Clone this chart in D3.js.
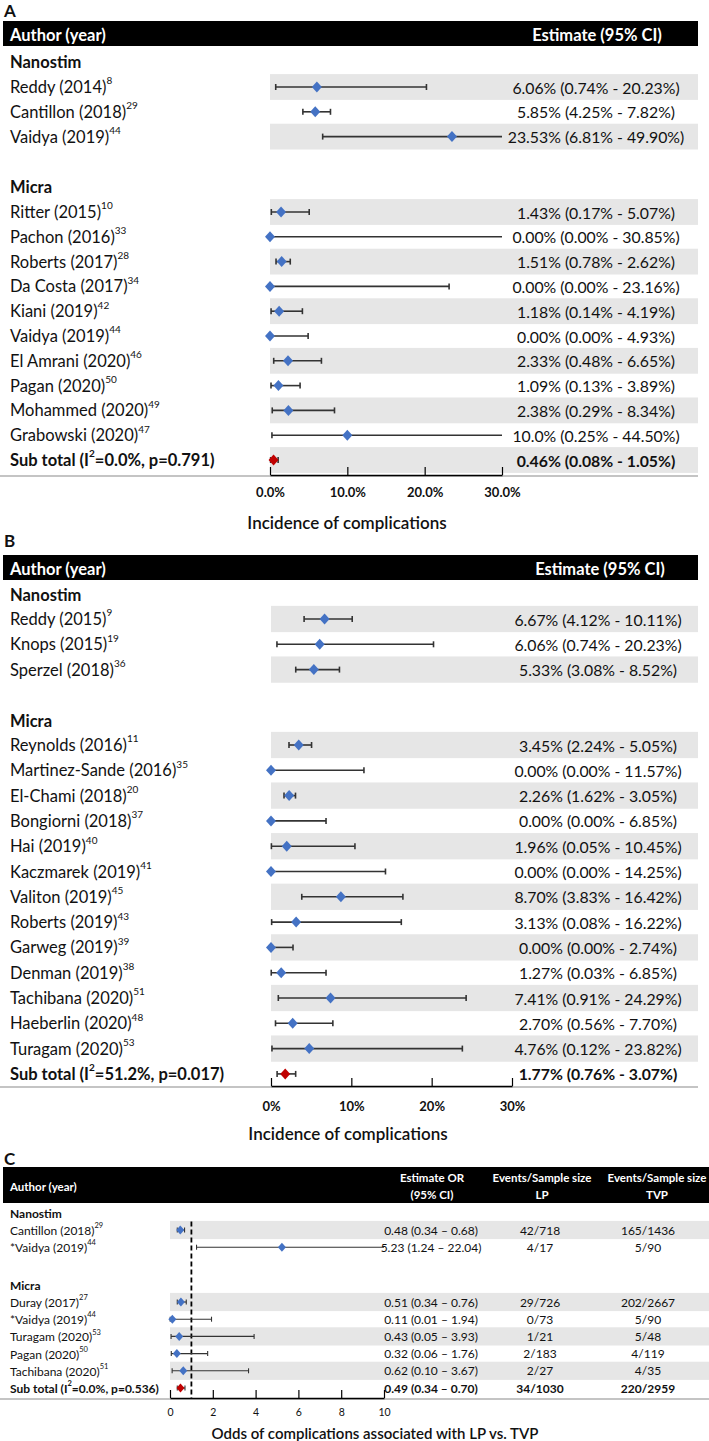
<!DOCTYPE html>
<html>
<head>
<meta charset="utf-8">
<script src="https://cdn.jsdelivr.net/npm/d3@7"></script>
<style>
  body { margin: 0; background: #fff; }
  text { font-family: Lato, "Noto Sans", sans-serif; fill: #111; }
</style>
</head>
<body>
<script>
// ---------- data ----------
const A_nanostim = [
  { author: "Reddy (2014)", ref: "8", est: 6.06, lo: 0.74, hi: 20.23, txt: "6.06% (0.74% - 20.23%)" },
  { author: "Cantillon (2018)", ref: "29", est: 5.85, lo: 4.25, hi: 7.82, txt: "5.85% (4.25% - 7.82%)" },
  { author: "Vaidya (2019)", ref: "44", est: 23.53, lo: 6.81, hi: 49.9, txt: "23.53% (6.81% - 49.90%)" }
];
const A_micra = [
  { author: "Ritter (2015)", ref: "10", est: 1.43, lo: 0.17, hi: 5.07, txt: "1.43% (0.17% - 5.07%)" },
  { author: "Pachon (2016)", ref: "33", est: 0.0, lo: 0.0, hi: 30.85, txt: "0.00% (0.00% - 30.85%)" },
  { author: "Roberts (2017)", ref: "28", est: 1.51, lo: 0.78, hi: 2.62, txt: "1.51% (0.78% - 2.62%)" },
  { author: "Da Costa (2017)", ref: "34", est: 0.0, lo: 0.0, hi: 23.16, txt: "0.00% (0.00% - 23.16%)" },
  { author: "Kiani (2019)", ref: "42", est: 1.18, lo: 0.14, hi: 4.19, txt: "1.18% (0.14% - 4.19%)" },
  { author: "Vaidya (2019)", ref: "44", est: 0.0, lo: 0.0, hi: 4.93, txt: "0.00% (0.00% - 4.93%)" },
  { author: "El Amrani (2020)", ref: "46", est: 2.33, lo: 0.48, hi: 6.65, txt: "2.33% (0.48% - 6.65%)" },
  { author: "Pagan (2020)", ref: "50", est: 1.09, lo: 0.13, hi: 3.89, txt: "1.09% (0.13% - 3.89%)" },
  { author: "Mohammed (2020)", ref: "49", est: 2.38, lo: 0.29, hi: 8.34, txt: "2.38% (0.29% - 8.34%)" },
  { author: "Grabowski (2020)", ref: "47", est: 10.0, lo: 0.25, hi: 44.5, txt: "10.0% (0.25% - 44.50%)" }
];
const A_total = { pre: "Sub total (I", sup: "2", post: "=0.0%, p=0.791)", est: 0.46, lo: 0.08, hi: 1.05, txt: "0.46% (0.08% - 1.05%)" };
const A_ticks = [0, 10, 20, 30];

const B_nanostim = [
  { author: "Reddy (2015)", ref: "9", est: 6.67, lo: 4.12, hi: 10.11, txt: "6.67% (4.12% - 10.11%)" },
  { author: "Knops (2015)", ref: "19", est: 6.06, lo: 0.74, hi: 20.23, txt: "6.06% (0.74% - 20.23%)" },
  { author: "Sperzel (2018)", ref: "36", est: 5.33, lo: 3.08, hi: 8.52, txt: "5.33% (3.08% - 8.52%)" }
];
const B_micra = [
  { author: "Reynolds (2016)", ref: "11", est: 3.45, lo: 2.24, hi: 5.05, txt: "3.45% (2.24% - 5.05%)" },
  { author: "Martinez-Sande (2016)", ref: "35", est: 0.0, lo: 0.0, hi: 11.57, txt: "0.00% (0.00% - 11.57%)" },
  { author: "El-Chami (2018)", ref: "20", est: 2.26, lo: 1.62, hi: 3.05, txt: "2.26% (1.62% - 3.05%)" },
  { author: "Bongiorni (2018)", ref: "37", est: 0.0, lo: 0.0, hi: 6.85, txt: "0.00% (0.00% - 6.85%)" },
  { author: "Hai (2019)", ref: "40", est: 1.96, lo: 0.05, hi: 10.45, txt: "1.96% (0.05% - 10.45%)" },
  { author: "Kaczmarek (2019)", ref: "41", est: 0.0, lo: 0.0, hi: 14.25, txt: "0.00% (0.00% - 14.25%)" },
  { author: "Valiton (2019)", ref: "45", est: 8.7, lo: 3.83, hi: 16.42, txt: "8.70% (3.83% - 16.42%)" },
  { author: "Roberts (2019)", ref: "43", est: 3.13, lo: 0.08, hi: 16.22, txt: "3.13% (0.08% - 16.22%)" },
  { author: "Garweg (2019)", ref: "39", est: 0.0, lo: 0.0, hi: 2.74, txt: "0.00% (0.00% - 2.74%)" },
  { author: "Denman (2019)", ref: "38", est: 1.27, lo: 0.03, hi: 6.85, txt: "1.27% (0.03% - 6.85%)" },
  { author: "Tachibana (2020)", ref: "51", est: 7.41, lo: 0.91, hi: 24.29, txt: "7.41% (0.91% - 24.29%)" },
  { author: "Haeberlin (2020)", ref: "48", est: 2.7, lo: 0.56, hi: 7.7, txt: "2.70% (0.56% - 7.70%)" },
  { author: "Turagam (2020)", ref: "53", est: 4.76, lo: 0.12, hi: 23.82, txt: "4.76% (0.12% - 23.82%)" }
];
const B_total = { pre: "Sub total (I", sup: "2", post: "=51.2%, p=0.017)", est: 1.77, lo: 0.76, hi: 3.07, txt: "1.77% (0.76% - 3.07%)" };
const B_ticks = [0, 10, 20, 30];

const C_nanostim = [
  { author: "Cantillon (2018)", ref: "29", est: 0.48, lo: 0.34, hi: 0.68, txt: "0.48 (0.34 \u2013 0.68)", lp: "42/718", tvp: "165/1436" },
  { author: "*Vaidya (2019)", ref: "44", est: 5.23, lo: 1.24, hi: 22.04, txt: "5.23 (1.24 \u2013 22.04)", lp: "4/17", tvp: "5/90" }
];
const C_micra = [
  { author: "Duray (2017)", ref: "27", est: 0.51, lo: 0.34, hi: 0.76, txt: "0.51 (0.34 \u2013 0.76)", lp: "29/726", tvp: "202/2667" },
  { author: "*Vaidya (2019)", ref: "44", est: 0.11, lo: 0.01, hi: 1.94, txt: "0.11 (0.01 \u2013 1.94)", lp: "0/73", tvp: "5/90" },
  { author: "Turagam (2020)", ref: "53", est: 0.43, lo: 0.05, hi: 3.93, txt: "0.43 (0.05 \u2013 3.93)", lp: "1/21", tvp: "5/48" },
  { author: "Pagan (2020)", ref: "50", est: 0.32, lo: 0.06, hi: 1.76, txt: "0.32 (0.06 \u2013 1.76)", lp: "2/183", tvp: "4/119" },
  { author: "Tachibana (2020)", ref: "51", est: 0.62, lo: 0.1, hi: 3.67, txt: "0.62 (0.10 \u2013 3.67)", lp: "2/27", tvp: "4/35" }
];
const C_total = { pre: "Sub total (I", sup: "2", post: "=0.0%, p=0.536)", est: 0.49, lo: 0.34, hi: 0.7, txt: "0.49 (0.34 \u2013 0.70)", lp: "34/1030", tvp: "220/2959" };
const C_ticks = [0, 2, 4, 6, 8, 10];

const W = 709, H = 1441;
const BLUE = "#4472c4", RED = "#c00000", BAND = "#e6e6e6";

const svg = d3.select("body").append("svg").attr("width", W).attr("height", H);

// ---------- panels ----------
drawPanel({
  letter: "A", letterY: 10, head: [21, 46], headW: 695,
  headers: [
    { x: 10, anchor: "start", lines: ["Author (year)"] },
    { x: 597, anchor: "middle", lines: ["Estimate (95% CI)"] }
  ],
  groups: [
    { name: "Nanostim", labelY: 62, y0: 87, rows: A_nanostim },
    { name: "Micra", labelY: 187, y0: 212, rows: A_micra }
  ],
  total: A_total, step: 24.8,
  domain: [0, 30], range: [270, 502], band: [270, 698],
  ticks: A_ticks, fmt: d => d.toFixed(1) + "%",
  axisY: 475, tickLabelY: 492, title: "Incidence of complications", titleX: 347, titleY: 522,
  estX: 596, fs: 16.5, estFs: 15.8, supFs: 10, headFs: 16.5, tickFs: 13, tickBold: true, titleFs: 17,
  dw: 5, dh: 5.5, cap: 3, lw: 1.6
});

drawPanel({
  letter: "B", letterY: 540, head: [555, 580], headW: 695,
  headers: [
    { x: 10, anchor: "start", lines: ["Author (year)"] },
    { x: 600, anchor: "middle", lines: ["Estimate (95% CI)"] }
  ],
  groups: [
    { name: "Nanostim", labelY: 595, y0: 619, rows: B_nanostim },
    { name: "Micra", labelY: 721, y0: 745, rows: B_micra }
  ],
  total: B_total, step: 25.3,
  domain: [0, 30], range: [271, 512], band: [271, 698],
  ticks: B_ticks, fmt: d => d + "%",
  axisY: 1086, tickLabelY: 1106, title: "Incidence of complications", titleX: 348, titleY: 1133,
  estX: 598, fs: 16.5, estFs: 15.8, supFs: 10, headFs: 16.5, tickFs: 13, tickBold: true, titleFs: 17,
  dw: 5, dh: 5.5, cap: 3, lw: 1.6
});

drawPanel({
  letter: "C", letterY: 1158, head: [1167, 1203], headW: 706,
  headers: [
    { x: 10, anchor: "start", lines: ["Author (year)"] },
    { x: 432, anchor: "middle", lines: ["Estimate OR", "(95% CI)"] },
    { x: 542, anchor: "middle", lines: ["Events/Sample size", "LP"] },
    { x: 657, anchor: "middle", lines: ["Events/Sample size", "TVP"] }
  ],
  groups: [
    { name: "Nanostim", labelY: 1213, y0: 1230, rows: C_nanostim },
    { name: "Micra", labelY: 1285, y0: 1302, rows: C_micra }
  ],
  total: C_total, step: 17.2,
  domain: [0, 10], range: [170, 384], band: [170, 709],
  ticks: C_ticks, fmt: d => d,
  axisY: 1398, tickLabelY: 1412, title: "Odds of complications associated with LP vs. TVP", titleX: 375, titleY: 1433,
  estX: 431, lpX: 540, tvpX: 648, refLine: 1,
  fs: 12, estFs: 12, supFs: 7.5, headFs: 11.5, tickFs: 10.5, tickBold: false, titleFs: 15,
  dw: 4, dh: 4.5, cap: 2.5, lw: 1.1
});

function drawPanel(p) {
  const g = svg.append("g");
  const x = d3.scaleLinear().domain(p.domain).range(p.range);
  const xmax = p.domain[1];

  g.append("text")
    .attr("x", 4).attr("y", p.letterY).attr("dominant-baseline", "central")
    .style("font-size", "17px").style("font-weight", "bold")
    .text(p.letter);

  // header bar
  g.append("rect")
    .attr("x", 3).attr("y", p.head[0])
    .attr("width", p.headW).attr("height", p.head[1] - p.head[0])
    .attr("fill", "#000");

  const hmid = (p.head[0] + p.head[1]) / 2;
  p.headers.forEach(h => {
    const n = h.lines.length;
    h.lines.forEach((ln, i) => {
      g.append("text")
        .attr("x", h.x)
        .attr("y", n == 1 ? hmid + 1 : hmid + (i - 0.5) * 17 + 1)
        .attr("text-anchor", h.anchor)
        .attr("dominant-baseline", "central")
        .style("font-size", p.headFs + "px").style("font-weight", "bold")
        .style("fill", "#fff")
        .text(ln);
    });
  });

  // build row list
  let rows = [];
  p.groups.forEach(gr => {
    g.append("text")
      .attr("x", 10).attr("y", gr.labelY).attr("dominant-baseline", "central")
      .style("font-size", p.fs + "px").style("font-weight", "bold")
      .text(gr.name);
    gr.rows.forEach((r, i) => rows.push(Object.assign({}, r, { y: gr.y0 + i * p.step, band: i % 2 == 0 })));
  });
  const last = p.groups[p.groups.length - 1];
  const nl = last.rows.length;
  rows.push(Object.assign({}, p.total, { y: last.y0 + nl * p.step, band: nl % 2 == 0, sub: true }));

  // grey bands
  g.selectAll(".band")
    .data(rows.filter(r => r.band))
    .enter().append("rect")
    .attr("x", p.band[0]).attr("width", p.band[1] - p.band[0])
    .attr("y", r => r.y - p.step / 2 - 0.5).attr("height", p.step + 1)
    .attr("fill", BAND);

  // reference line (odds ratio = 1)
  if (p.refLine != null) {
    g.append("line")
      .attr("x1", x(p.refLine)).attr("x2", x(p.refLine))
      .attr("y1", rows[0].y - p.step / 2).attr("y2", p.axisY)
      .attr("stroke", "#000").attr("stroke-width", 1.8)
      .attr("stroke-dasharray", "5,3");
  }

  // axis: grey baseline across and black domain with upward ticks
  g.append("line")
    .attr("x1", 0).attr("x2", p.band[1])
    .attr("y1", p.axisY + 1).attr("y2", p.axisY + 1)
    .attr("stroke", "#8a8a8a").attr("stroke-width", 1.2);

  const axis = g.append("g")
    .attr("transform", "translate(0," + p.axisY + ")")
    .call(d3.axisBottom(x).tickValues(p.ticks).tickFormat(p.fmt)
      .tickSizeInner(-8).tickSizeOuter(0).tickPadding(p.tickLabelY - p.axisY));
  axis.select(".domain").attr("stroke", "#000").attr("stroke-width", 1.4);
  axis.selectAll(".tick line").attr("stroke", "#000").attr("stroke-width", 1.2);
  axis.selectAll(".tick text")
    .attr("dy", null).attr("dominant-baseline", "central")
    .style("font-family", "Lato, sans-serif")
    .style("font-size", p.tickFs + "px")
    .style("font-weight", p.tickBold ? "bold" : "normal")
    .style("fill", "#111");

  g.append("text")
    .attr("x", p.titleX)
    .attr("y", p.titleY).attr("text-anchor", "middle").attr("dominant-baseline", "central")
    .style("font-size", p.titleFs + "px").style("font-weight", "600")
    .text(p.title);

  // whiskers
  const rg = g.selectAll(".row").data(rows).enter().append("g");

  rg.append("line")
    .attr("x1", r => x(r.lo)).attr("x2", r => x(Math.min(r.hi, xmax)))
    .attr("y1", r => r.y).attr("y2", r => r.y)
    .attr("stroke", "#333").attr("stroke-width", p.lw);

  rg.filter(r => r.lo > 0).append("line")
    .attr("x1", r => x(r.lo)).attr("x2", r => x(r.lo))
    .attr("y1", r => r.y - p.cap).attr("y2", r => r.y + p.cap)
    .attr("stroke", "#333").attr("stroke-width", p.lw);

  rg.filter(r => r.hi <= xmax).append("line")
    .attr("x1", r => x(r.hi)).attr("x2", r => x(r.hi))
    .attr("y1", r => r.y - p.cap).attr("y2", r => r.y + p.cap)
    .attr("stroke", "#333").attr("stroke-width", p.lw);

  // diamonds
  rg.append("path")
    .attr("d", r => {
      const cx = x(r.est), cy = r.y;
      return "M" + (cx - p.dw) + "," + cy + "L" + cx + "," + (cy - p.dh) +
        "L" + (cx + p.dw) + "," + cy + "L" + cx + "," + (cy + p.dh) + "Z";
    })
    .attr("fill", r => r.sub ? RED : BLUE);

  // row labels
  rg.each(function (r) {
    const t = d3.select(this).append("text")
      .attr("x", 10).attr("y", r.y).attr("dominant-baseline", "central")
      .style("font-size", p.fs + "px")
      .style("font-weight", r.sub ? "bold" : "normal");
    if (r.sub) {
      t.append("tspan").text(r.pre);
      t.append("tspan").attr("dy", -p.fs * 0.4).style("font-size", p.supFs + "px").text(r.sup);
      t.append("tspan").attr("dy", p.fs * 0.4).text(r.post);
    } else {
      t.append("tspan").text(r.author);
      t.append("tspan").attr("dy", -p.fs * 0.4).style("font-size", p.supFs + "px").text(r.ref);
    }
  });

  // estimate columns
  rg.append("text")
    .attr("x", p.estX).attr("y", r => r.y).attr("text-anchor", "middle")
    .attr("dominant-baseline", "central")
    .style("font-size", p.estFs + "px")
    .style("font-weight", r => r.sub ? "bold" : "normal")
    .text(r => r.txt);

  if (p.lpX != null) {
    rg.append("text")
      .attr("x", p.lpX).attr("y", r => r.y).attr("text-anchor", "middle")
      .attr("dominant-baseline", "central")
      .style("font-size", p.fs + "px")
      .style("font-weight", r => r.sub ? "bold" : "normal")
      .text(r => r.lp);
    rg.append("text")
      .attr("x", p.tvpX).attr("y", r => r.y).attr("text-anchor", "middle")
      .attr("dominant-baseline", "central")
      .style("font-size", p.fs + "px")
      .style("font-weight", r => r.sub ? "bold" : "normal")
      .text(r => r.tvp);
  }
}
</script>
</body>
</html>
